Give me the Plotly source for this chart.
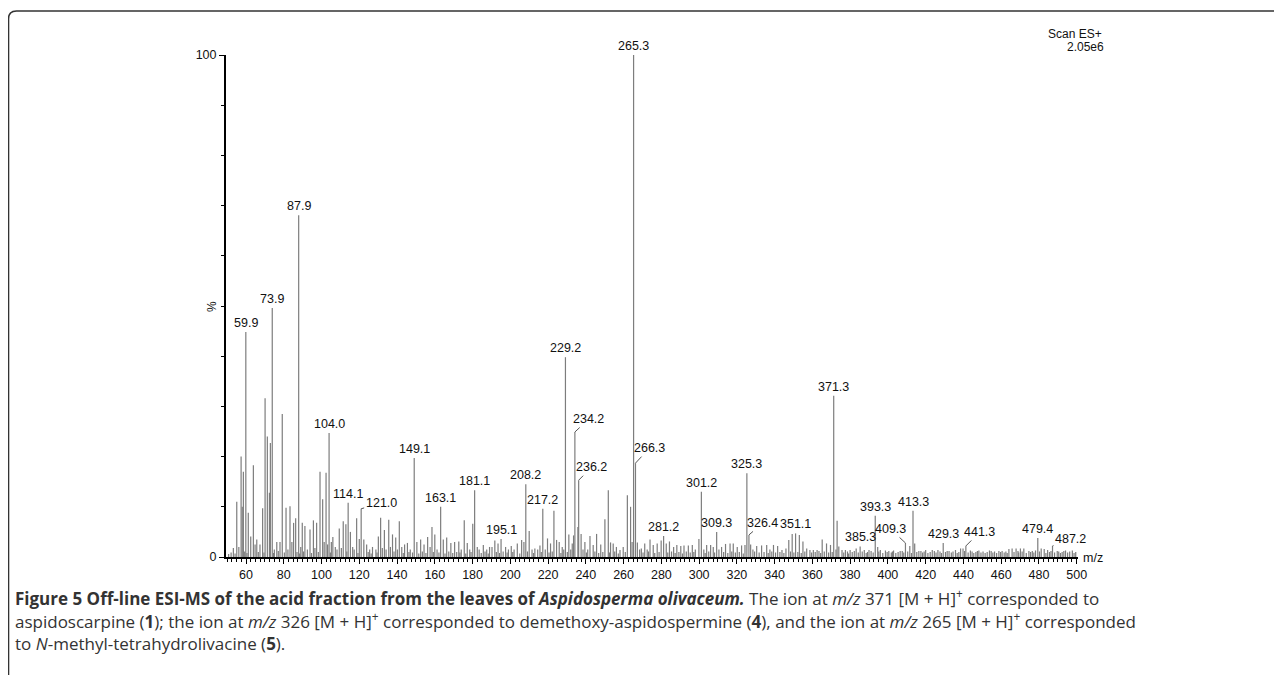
import plotly.graph_objects as go

# ---------------- data ----------------
# labelled peaks (m/z, relative intensity %)
label_mz = [59.9, 73.9, 87.9, 104.0, 114.1, 121.0, 149.1, 163.1, 181.1, 195.1,
            208.2, 217.2, 229.2, 234.2, 236.2, 265.3, 266.3, 281.2, 301.2, 309.3,
            325.3, 326.4, 351.1, 371.3, 385.3, 393.3, 409.3, 413.3, 429.3, 441.3,
            479.4, 487.2]
label_int = [44.8, 49.6, 68.1, 24.7, 10.8, 9.6, 19.7, 10.0, 13.3, 3.6,
             14.5, 9.6, 39.8, 24.9, 15.3, 100.0, 18.7, 4.2, 13.0, 5.0,
             16.7, 4.4, 4.7, 32.1, 2.1, 8.2, 2.8, 9.2, 2.8, 2.2,
             3.8, 2.2]
label_text = ["59.9", "73.9", "87.9", "104.0", "114.1", "121.0", "149.1", "163.1", "181.1", "195.1",
              "208.2", "217.2", "229.2", "234.2", "236.2", "265.3", "266.3", "281.2", "301.2", "309.3",
              "325.3", "326.4", "351.1", "371.3", "385.3", "393.3", "409.3", "413.3", "429.3", "441.3",
              "479.4", "487.2"]

# other visible peaks (m/z, %)
other_peaks = [
    (53.3, 1.8), (55.1, 11.0), (56.2, 2.0), (57.4, 20.0), (58.0, 10.0), (58.6, 17.0),
    (61.2, 8.8), (62.5, 4.1), (63.9, 18.3), (64.8, 2.5), (65.7, 3.5), (67.4, 2.5),
    (68.8, 9.7), (70.1, 31.6), (71.3, 24.0), (72.4, 12.8), (72.9, 22.7), (75.0, 1.5),
    (76.3, 3.0), (78.0, 3.0), (79.2, 28.5), (81.2, 9.8), (82.2, 1.5), (83.3, 10.1),
    (84.3, 3.0), (85.2, 6.8), (86.3, 7.7), (89.0, 2.0), (89.8, 6.8), (91.2, 6.2),
    (92.5, 1.5), (93.9, 5.5), (95.7, 7.3), (96.5, 1.8), (97.4, 6.8), (99.2, 17.0),
    (100.6, 11.5), (101.4, 3.0), (102.4, 16.8), (103.2, 2.5), (105.2, 3.0), (106.0, 4.0),
    (107.3, 2.0), (108.2, 1.5), (109.4, 5.7), (110.5, 1.8), (111.5, 7.1), (112.9, 6.5),
    (115.3, 5.0), (116.5, 2.0), (117.3, 1.5), (118.6, 7.7), (120.0, 3.6), (122.4, 3.5),
    (123.9, 2.5), (125.5, 1.5), (127.0, 2.0), (128.8, 1.5), (130.1, 4.1), (131.3, 7.8),
    (132.2, 1.8), (133.3, 5.4), (134.2, 1.5), (135.6, 7.4), (136.5, 2.0), (137.6, 4.5),
    (139.3, 3.9), (140.2, 1.5), (141.2, 7.1), (142.5, 2.0), (144.0, 2.5), (145.5, 2.8),
    (147.0, 1.5), (150.5, 3.0), (152.5, 3.5), (154.3, 2.5), (156.2, 4.0), (157.5, 2.0),
    (158.5, 6.0), (160.0, 4.5), (161.2, 1.5), (164.5, 3.5), (166.3, 3.9), (168.5, 2.8),
    (170.5, 3.0), (172.7, 3.1), (174.0, 1.5), (175.6, 7.3), (177.2, 2.8), (178.5, 1.5),
    (180.1, 6.6), (182.5, 2.0), (183.5, 1.5), (185.7, 2.4), (187.5, 1.5), (189.0, 2.0),
    (190.3, 2.0), (191.8, 3.3), (193.5, 2.7), (197.5, 2.0), (199.0, 1.5), (200.5, 2.2),
    (202.0, 1.5), (203.7, 2.7), (206.0, 3.4), (207.2, 3.0), (210.0, 5.2), (211.5, 1.5),
    (213.0, 1.7), (214.5, 1.5), (215.7, 2.3), (218.5, 1.5), (219.7, 3.7), (221.3, 2.7),
    (223.1, 9.2), (224.5, 3.4), (225.9, 3.0), (227.5, 2.0), (228.3, 1.5), (231.0, 4.5),
    (232.0, 1.5), (232.8, 2.7), (233.5, 4.3), (235.8, 6.0), (237.5, 4.6), (238.5, 1.5),
    (239.5, 3.0), (241.0, 1.5), (242.2, 4.2), (243.9, 2.4), (245.7, 4.6), (247.9, 2.5),
    (250.1, 7.5), (251.9, 13.3), (253.1, 2.9), (254.5, 2.7), (256.2, 2.0), (258.1, 1.4),
    (259.8, 2.0), (262.0, 12.3), (263.7, 10.0), (264.5, 3.0), (267.3, 2.9), (268.5, 1.5),
    (269.4, 1.7), (271.2, 2.7), (272.5, 1.5), (274.0, 3.5), (275.7, 2.4), (277.8, 2.7),
    (279.9, 3.3), (282.6, 2.7), (284.3, 3.1), (286.5, 2.0), (288.2, 2.4), (290.3, 2.2),
    (292.0, 2.3), (294.3, 2.3), (296.4, 2.4), (298.0, 1.5), (299.9, 3.6), (302.5, 1.5),
    (304.0, 2.4), (306.1, 2.4), (307.5, 2.0), (310.5, 1.5), (311.9, 2.0), (314.0, 2.6),
    (316.4, 2.7), (318.1, 2.7), (320.2, 2.0), (322.5, 2.3), (324.3, 2.4), (327.3, 2.5),
    (328.5, 1.5), (330.5, 2.2), (333.1, 2.3), (335.8, 2.4), (337.5, 1.5), (339.4, 2.4),
    (341.6, 2.2), (343.9, 1.4), (346.0, 1.7), (347.5, 3.4), (349.3, 4.6), (353.1, 4.4),
    (355.0, 3.1), (357.0, 1.7), (358.7, 1.4), (360.5, 1.4), (362.5, 1.4), (365.2, 3.5),
    (367.5, 2.7), (369.6, 2.4), (372.5, 1.5), (373.1, 7.2), (374.0, 2.1), (375.7, 1.4),
    (377.5, 1.4), (380.0, 1.4), (383.2, 1.7), (387.5, 1.4), (390.0, 1.4), (394.6, 2.0),
    (396.0, 1.4), (398.7, 1.3), (403.0, 1.3), (406.5, 1.2), (411.6, 2.2), (414.2, 2.7),
    (416.4, 1.2), (420.0, 1.4), (423.5, 1.4), (426.5, 1.4), (432.4, 1.2), (435.8, 1.4),
    (438.5, 1.7), (439.8, 1.7), (443.7, 1.3), (448.2, 1.3), (453.8, 1.3), (458.8, 1.2),
    (464.1, 1.6), (465.8, 1.7), (467.9, 1.7), (470.2, 1.7), (472.0, 1.7), (474.7, 1.2),
    (478.2, 1.3), (481.2, 1.7), (482.8, 1.6), (484.6, 1.4), (489.7, 1.2), (494.1, 1.3),
    (497.7, 1.3),
]

# low-level noise floor (m/z, %)
floor_peaks = [
    (50.8, 0.6), (52.1, 0.9), (54.2, 0.7), (59.3, 1.1), (60.5, 0.8), (66.5, 1.0),
    (69.5, 0.9), (74.6, 0.8), (77.1, 1.2), (80.3, 0.9), (87.0, 1.0), (88.4, 0.7),
    (90.5, 1.1), (94.7, 0.8), (98.3, 1.0), (104.7, 0.9), (113.4, 1.1), (119.3, 0.8),
    (124.7, 1.0), (126.3, 0.7), (129.4, 0.9), (138.4, 1.1), (143.3, 0.8), (146.3, 1.0),
    (148.2, 0.9), (151.5, 0.7), (153.4, 1.1), (155.3, 0.8), (159.2, 1.0), (162.2, 0.9),
    (165.4, 0.7), (167.4, 1.1), (169.5, 0.8), (171.6, 1.0), (173.3, 0.9), (176.4, 0.7),
    (179.2, 1.0), (184.6, 0.8), (186.6, 1.1), (188.3, 0.7), (192.6, 1.0), (194.3, 0.8),
    (196.2, 1.1), (198.3, 0.9), (201.3, 1.0), (205.0, 0.7), (209.1, 1.1), (212.3, 0.8),
    (216.4, 1.0), (220.5, 0.9), (222.2, 1.1), (226.8, 0.8), (230.2, 1.0), (240.3, 0.9),
    (244.8, 1.1), (246.8, 0.8), (249.0, 1.0), (252.5, 0.9), (255.3, 1.1), (257.2, 0.7),
    (260.9, 1.0), (270.3, 0.9), (273.2, 1.1), (276.5, 0.8), (278.8, 1.0), (283.4, 0.9),
    (285.4, 1.1), (287.3, 0.8), (289.3, 1.0), (291.2, 0.7), (293.2, 1.1), (295.3, 0.9),
    (297.2, 1.0), (303.2, 0.8), (305.1, 1.1), (308.2, 0.9), (313.0, 1.0), (315.2, 0.8),
    (317.3, 1.1), (319.2, 0.9), (321.3, 1.0), (323.4, 0.7), (329.4, 1.1), (331.8, 0.9),
    (334.4, 1.0), (336.6, 0.8), (338.5, 1.1), (340.5, 0.9), (342.8, 1.0), (344.9, 0.8),
    (348.4, 1.1), (350.2, 0.9), (352.3, 1.0), (354.1, 0.8), (356.0, 1.1), (359.6, 0.9),
    (361.5, 1.0), (363.5, 1.2), (364.4, 0.8), (366.3, 1.1), (368.6, 0.9), (370.5, 1.0),
    (376.6, 0.9), (378.6, 1.1), (379.2, 0.7), (381.1, 1.0), (382.2, 1.2), (384.3, 0.9),
    (386.4, 1.1), (388.5, 0.8), (389.2, 1.0), (391.1, 1.2), (392.2, 0.9), (395.2, 1.1),
    (397.3, 0.8), (399.6, 1.0), (400.5, 1.2), (401.8, 0.9), (402.4, 1.1), (404.2, 0.8),
    (405.4, 1.0), (407.6, 1.2), (408.4, 0.9), (410.5, 1.1), (412.5, 0.8), (415.3, 1.0),
    (417.5, 1.2), (418.4, 0.9), (419.2, 1.1), (421.2, 0.8), (422.4, 1.0), (424.6, 1.2),
    (425.5, 0.9), (427.6, 1.1), (428.4, 0.8), (430.5, 1.0), (431.4, 1.2), (433.6, 0.9),
    (434.5, 1.1), (436.7, 0.8), (437.6, 1.0), (440.6, 1.2), (442.5, 0.9), (444.6, 1.1),
    (445.5, 0.8), (446.6, 1.0), (447.4, 1.2), (449.3, 0.9), (450.4, 1.1), (451.5, 0.8),
    (452.6, 1.0), (454.7, 1.2), (455.6, 0.9), (456.5, 1.1), (457.6, 0.8), (459.7, 1.0),
    (460.5, 1.2), (461.6, 0.9), (462.5, 1.1), (463.2, 0.8), (466.8, 1.0), (468.9, 1.2),
    (469.3, 0.9), (471.1, 1.1), (473.3, 0.8), (475.6, 1.0), (476.5, 1.2), (477.3, 0.9),
    (480.3, 1.1), (483.7, 0.8), (485.6, 1.0), (486.4, 1.2), (488.3, 0.9), (490.5, 1.1),
    (491.4, 0.8), (492.3, 1.0), (493.2, 1.2), (495.2, 0.9), (496.3, 1.1), (498.6, 0.8),
    (499.5, 1.0),
]

x_ticks = [60, 80, 100, 120, 140, 160, 180, 200, 220, 240, 260, 280, 300,
           320, 340, 360, 380, 400, 420, 440, 460, 480, 500]
y_ticks = [0, 100]
y_tick_text = ["0", "100"]

# ---------------- layout geometry (screen pixels) ----------------
OFF = 8                      # page body margin
W, H = 1282 - OFF, 675 - OFF
PL, PR, PT, PB = 226, 1078, 55, 557   # plot area in screen pixels


def px(x):
    return (x - PL) / (PR - PL)


def py(y):
    return (PB - y) / (PB - PT)


# leader-line label offsets (pixels, text centre relative to peak top)
leader = {"121.0": (20, -6), "234.2": (14, -13), "236.2": (13, -13),
          "266.3": (14, -15), "326.4": (14, -12), "409.3": (-15, -14),
          "441.3": (14, -14), "487.2": (18, -7)}

# ---------------- build stick spectrum ----------------
all_peaks = floor_peaks + other_peaks + list(zip(label_mz, label_int))
xs, ys = [], []
for m, h in all_peaks:
    xs += [m, m, None]
    ys += [0, h, None]

fig = go.Figure()
fig.add_trace(go.Scatter(x=xs, y=ys, mode="lines",
                         line=dict(color="#7d7d7d", width=1.2),
                         hoverinfo="skip", showlegend=False))

LABEL_FONT = dict(family="Liberation Sans, Arial, sans-serif", size=12.5, color="#111")
annotations = []
for m, h, t in zip(label_mz, label_int, label_text):
    if t in leader:
        ax, ay = leader[t]
        annotations.append(dict(x=m, y=h, xref="x", yref="y", text=t, showarrow=True,
                                arrowhead=0, arrowwidth=1, arrowcolor="#555",
                                ax=ax, ay=ay, standoff=0, font=LABEL_FONT))
    else:
        annotations.append(dict(x=m, y=h, xref="x", yref="y", text=t, showarrow=False,
                                yanchor="bottom", yshift=0, font=LABEL_FONT))

# axis-side texts
annotations.append(dict(x=px(1093), y=py(558), xref="paper", yref="paper", text="m/z",
                        showarrow=False, xanchor="center", yanchor="middle", font=LABEL_FONT))
annotations.append(dict(x=px(212), y=py(307), xref="paper", yref="paper", text="%",
                        showarrow=False, textangle=-90, xanchor="center", yanchor="middle",
                        font=dict(family="Liberation Sans, Arial", size=12, color="#111")))
annotations.append(dict(x=px(1104), y=py(34), xref="paper", yref="paper", text="Scan ES+",
                        showarrow=False, xanchor="right", yanchor="middle",
                        font=dict(family="Liberation Sans, Arial", size=12, color="#111")))
annotations.append(dict(x=px(1106), y=py(47), xref="paper", yref="paper", text="2.05e6",
                        showarrow=False, xanchor="right", yanchor="middle",
                        font=dict(family="Liberation Sans, Arial", size=12, color="#111")))

# caption
CAP = dict(family="Open Sans, Lato, sans-serif", size=17, color="#333")
cap_lines = [
    "<b>Figure 5 Off-line ESI-MS of the acid fraction from the leaves of <i>Aspidosperma olivaceum.</i></b>"
    " The ion at <i>m/z</i> 371 [M + H]<sup>+</sup> corresponded to",
    "aspidoscarpine (<b>1</b>); the ion at <i>m/z</i> 326 [M + H]<sup>+</sup> corresponded to "
    "demethoxy-aspidospermine (<b>4</b>), and the ion at <i>m/z</i> 265 [M + H]<sup>+</sup> corresponded",
    "to <i>N</i>-methyl-tetrahydrolivacine (<b>5</b>).",
]
cap_y = [597, 620, 643]
for t, yy in zip(cap_lines, cap_y):
    annotations.append(dict(x=px(13), y=py(yy), xref="paper", yref="paper", text=t,
                            showarrow=False, xanchor="left", yanchor="middle", align="left",
                            font=CAP))

# frame with rounded top-left corner
x0, y0, x1, y1, r = 8.5, 11, 1290, 690, 8
path = (f"M {px(x0)},{py(y1)} L {px(x0)},{py(y0 + r)} "
        f"Q {px(x0)},{py(y0)} {px(x0 + r)},{py(y0)} L {px(x1)},{py(y0)}")

fig.update_layout(
    width=W, height=H,
    margin=dict(l=PL - OFF, r=1282 - PR, t=PT - OFF, b=675 - PB, pad=0),
    paper_bgcolor="white", plot_bgcolor="white",
    showlegend=False,
    annotations=annotations,
    shapes=[dict(type="path", path=path, xref="paper", yref="paper",
                 line=dict(color="#333", width=1.6))],
    xaxis=dict(range=[49.4, 500.7], showgrid=False, zeroline=False,
               showline=True, linecolor="black", linewidth=2,
               tickmode="array", tickvals=x_ticks,
               ticks="outside", ticklen=5, tickwidth=1, tickcolor="black",
               minor=dict(ticks="outside", ticklen=3, tickwidth=1, tickcolor="black",
                          dtick=2.5, tick0=0, showgrid=False),
               tickfont=dict(family="Liberation Sans, Arial", size=12.5, color="#111")),
    yaxis=dict(range=[0, 100], showgrid=False, zeroline=False,
               showline=True, linecolor="black", linewidth=2,
               tickmode="array", tickvals=y_ticks, ticktext=y_tick_text,
               ticks="outside", ticklen=5, tickwidth=1, tickcolor="black",
               minor=dict(ticks="outside", ticklen=3, tickwidth=1, tickcolor="black",
                          dtick=10, tick0=0, showgrid=False),
               tickfont=dict(family="Liberation Sans, Arial", size=12.5, color="#111")),
)

fig.write_html("out.html")
